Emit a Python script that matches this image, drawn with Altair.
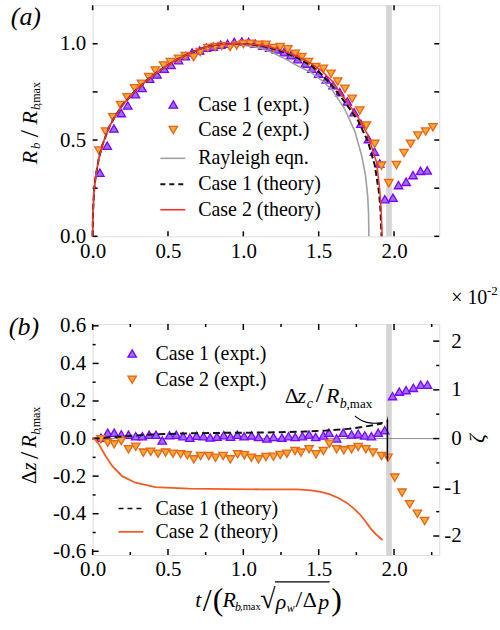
import altair as alt
import pandas as pd

SERIF = "Liberation Serif, Times New Roman, Times, DejaVu Serif, serif"
W, H = 348, 232
TOP = (92, 3)      # plot-area origin of panel (a)
BOT = (92, 323)    # plot-area origin of panel (b)
PAGE = (500, 630)

PURPLE_FILL, PURPLE_EDGE = "#9670f2", "#7f00ff"
ORANGE_FILL, ORANGE_EDGE = "#f7a934", "#e5661c"

# ---------------- panel (a): bubble radius ----------------
ray_t = [0, 0.002, 0.01, 0.02, 0.04, 0.063, 0.108, 0.152, 0.196, 0.284, 0.372, 0.46, 0.548, 0.636,
         0.747, 0.857, 0.92, 1.0, 1.1, 1.2, 1.28, 1.35, 1.45, 1.52, 1.59, 1.67, 1.74, 1.785, 1.81,
         1.825, 1.831, 1.833]
ray_r = [0, 0.12, 0.24, 0.31, 0.40, 0.47, 0.566, 0.627, 0.68, 0.757, 0.818, 0.87, 0.913, 0.948,
         0.983, 0.998, 1.0, 0.995, 0.98, 0.952, 0.92, 0.89, 0.85, 0.81, 0.76, 0.665, 0.545, 0.42,
         0.32, 0.21, 0.12, 0.0]

th1_t = [0, 0.002, 0.01, 0.02, 0.04, 0.063, 0.108, 0.152, 0.196, 0.284, 0.372, 0.46, 0.548, 0.636,
         0.747, 0.857, 0.95, 1.05, 1.15, 1.25, 1.35, 1.454, 1.52, 1.586, 1.674, 1.762, 1.828, 1.872,
         1.9, 1.91, 1.917]
th1_r = [0, 0.12, 0.24, 0.31, 0.40, 0.47, 0.566, 0.627, 0.68, 0.757, 0.818, 0.87, 0.913, 0.948,
         0.983, 0.998, 1.0, 0.997, 0.985, 0.962, 0.93, 0.885, 0.84, 0.785, 0.697, 0.6, 0.49, 0.37,
         0.23, 0.14, 0.0]

th2_t = [0, 0.002, 0.01, 0.02, 0.04, 0.063, 0.108, 0.152, 0.196, 0.284, 0.372, 0.46, 0.548, 0.636,
         0.747, 0.857, 0.95, 1.05, 1.15, 1.25, 1.35, 1.45, 1.52, 1.59, 1.674, 1.762, 1.828, 1.884,
         1.905, 1.915, 1.921]
th2_r = [0, 0.12, 0.24, 0.31, 0.40, 0.47, 0.566, 0.627, 0.68, 0.757, 0.818, 0.87, 0.913, 0.948,
         0.983, 0.998, 1.0, 0.998, 0.988, 0.967, 0.938, 0.897, 0.86, 0.805, 0.713, 0.618, 0.523,
         0.384, 0.245, 0.13, 0.0]

ex1_t = [0.048, 0.097, 0.141, 0.19, 0.233, 0.284, 0.328, 0.379, 0.427, 0.475, 0.52, 0.57, 0.615,
         0.66, 0.71, 0.755, 0.80, 0.85, 0.895, 0.94, 0.99, 1.035, 1.08, 1.13, 1.175, 1.22, 1.27,
         1.315, 1.36, 1.41, 1.455, 1.50, 1.55, 1.595, 1.64, 1.69, 1.735, 1.78, 1.83, 1.87, 1.905,
         1.939, 1.993, 2.03, 2.08, 2.126, 2.176, 2.22]
ex1_r = [0.33, 0.47, 0.56, 0.64, 0.68, 0.738, 0.77, 0.818, 0.84, 0.87, 0.89, 0.915, 0.935, 0.955,
         0.965, 0.98, 0.985, 0.995, 1.0, 1.01, 1.012, 1.01, 1.0, 0.99, 0.98, 0.97, 0.956, 0.94,
         0.92, 0.897, 0.87, 0.845, 0.815, 0.785, 0.748, 0.70, 0.645, 0.585, 0.505, 0.44, 0.378,
         0.193, 0.2, 0.266, 0.283, 0.318, 0.34, 0.342]

ex2_t = [0.042, 0.086, 0.134, 0.185, 0.229, 0.278, 0.324, 0.372, 0.416, 0.471, 0.516, 0.57, 0.615,
         0.67, 0.714, 0.764, 0.813, 0.857, 0.912, 0.956, 1.0, 1.046, 1.1, 1.15, 1.2, 1.245, 1.295,
         1.344, 1.388, 1.432, 1.48, 1.531, 1.582, 1.626, 1.674, 1.722, 1.773, 1.817, 1.872, 1.917,
         1.965, 2.016, 2.066, 2.11, 2.159, 2.21, 2.258]
ex2_r = [0.445, 0.544, 0.618, 0.682, 0.722, 0.769, 0.792, 0.827, 0.861, 0.887, 0.905, 0.922, 0.936,
         0.93, 0.957, 0.978, 0.983, 0.988, 0.983, 0.991, 0.998, 1.0, 0.995, 0.995, 0.978, 0.983,
         0.971, 0.948, 0.931, 0.905, 0.879, 0.87, 0.844, 0.804, 0.766, 0.714, 0.653, 0.575, 0.48,
         0.367, 0.276, 0.37, 0.432, 0.48, 0.523, 0.544, 0.566]

# ---------------- panel (b): bubble centroid displacement ----------------
dz1_t = [0.055, 0.10, 0.143, 0.19, 0.238, 0.286, 0.33, 0.375, 0.42, 0.462, 0.51, 0.555, 0.60, 0.645,
         0.69, 0.735, 0.78, 0.825, 0.87, 0.915, 0.96, 1.005, 1.055, 1.101, 1.157, 1.2, 1.256, 1.3,
         1.344, 1.392, 1.436, 1.48, 1.531, 1.568, 1.619, 1.663, 1.718, 1.762, 1.806, 1.85, 1.895,
         1.938, 1.99, 2.035, 2.08, 2.128, 2.177, 2.222]
dz1_v = [0.005, 0.031, 0.031, 0.022, 0.02, 0.013, 0.013, 0.02, 0.02, -0.01, 0.018, 0.02, 0.013,
         0.004, 0.015, 0.013, 0.006, 0.01, 0.018, 0.01, 0.02, 0.012, 0.016, 0.008, 0.001, 0.008,
         0.004, 0.013, 0.008, 0.013, 0.022, 0.008, 0.017, 0.031, 0.001, 0.031, 0.022, 0.026, 0.017,
         0.013, 0.031, 0.044, 0.226, 0.25, 0.258, 0.27, 0.287, 0.287]

dz2_t = [0.055, 0.10, 0.143, 0.19, 0.238, 0.286, 0.337, 0.385, 0.434, 0.484, 0.533, 0.584, 0.628,
         0.672, 0.716, 0.771, 0.815, 0.866, 0.914, 0.962, 1.007, 1.053, 1.101, 1.15, 1.2, 1.245,
         1.289, 1.343, 1.383, 1.436, 1.482, 1.531, 1.571, 1.619, 1.667, 1.718, 1.762, 1.813, 1.861,
         1.917, 1.96, 2.005, 2.053, 2.104, 2.155, 2.203]
dz2_v = [-0.004, -0.022, -0.031, -0.013, -0.057, -0.044, -0.075, -0.07, -0.081, -0.075, -0.081,
         -0.084, -0.089, -0.111, -0.093, -0.093, -0.102, -0.093, -0.111, -0.084, -0.089, -0.102,
         -0.111, -0.098, -0.097, -0.088, -0.081, -0.066, -0.075, -0.057, -0.084, -0.066, -0.028,
         -0.057, -0.063, -0.057, -0.045, -0.057, -0.075, -0.093, -0.102, -0.208, -0.288, -0.35,
         -0.4, -0.439]

dzth1_t = [0, 0.1, 0.2, 0.4, 0.6, 0.8, 1.0, 1.2, 1.4, 1.55, 1.7, 1.8, 1.87, 1.92]
dzth1_v = [0, 0.005, 0.012, 0.022, 0.027, 0.03, 0.031, 0.033, 0.037, 0.043, 0.052, 0.063, 0.072, 0.08]

dzth2_t = [0, 0.02, 0.042, 0.086, 0.13, 0.196, 0.284, 0.416, 0.637, 0.9, 1.1, 1.355, 1.45, 1.52,
           1.575, 1.63, 1.685, 1.73, 1.773, 1.81, 1.84, 1.88, 1.917, 1.925]
dzth2_v = [0, -0.008, -0.031, -0.093, -0.146, -0.2, -0.235, -0.258, -0.267, -0.269, -0.27, -0.27,
           -0.276, -0.285, -0.297, -0.316, -0.341, -0.37, -0.403, -0.44, -0.474, -0.51, -0.536,
           -0.54]

# pinch-off window and the jump annotation
band_t = [1.948, 1.985]
jump_t = [1.956]
jump_lo, jump_hi = [-0.105], [0.10]
leader_t = [1.74, 1.785, 1.85, 1.927]
leader_v = [0.12, 0.093, 0.079, 0.084]

# axis ticks
x_major = [0, 0.5, 1.0, 1.5, 2.0]
x_minor = [0.25, 0.75, 1.25, 1.75, 2.25]
ra_ticks = [0, 0.25, 0.5, 0.75, 1.0]
dz_major = [-0.6, -0.4, -0.2, 0, 0.2, 0.4, 0.6]
dz_minor = [-0.5, -0.3, -0.1, 0.1, 0.3, 0.5]
zeta_major = [-2, -1, 0, 1, 2]
zeta_minor = [-1.5, -0.5, 0.5, 1.5]

ONE = pd.DataFrame({"k": [0]})

xscale = alt.Scale(domain=[0, 2.3], nice=False, zero=False)
rscale = alt.Scale(domain=[0, 1.2], nice=False, zero=False)
dzscale = alt.Scale(domain=[-0.62, 0.61], nice=False, zero=False)
zscale = alt.Scale(domain=[-0.62 * 3.856, 0.61 * 3.856], nice=False, zero=False)

LBL = dict(ticks=False, domain=False, grid=False, labelFont=SERIF, labelFontSize=21,
           labelColor="black", title=None, labelFlush=False, labelOverlap=False)
xaxis = alt.Axis(values=x_major, format=".1f", labelPadding=4, **LBL)
raxis = alt.Axis(values=[0, 0.5, 1.0], format=".1f", labelPadding=7, **LBL)
dzaxis = alt.Axis(values=dz_major, labelPadding=7,
                  labelExpr="datum.value < 0 ? '-' + format(-datum.value, '.1f') : format(datum.value, '.1f')",
                  **LBL)
zaxis = alt.Axis(values=zeta_major, orient="right", labelPadding=22, labelAlign="right",
                 labelExpr="datum.value < 0 ? '-' + format(-datum.value, 'd') : format(datum.value, 'd')",
                 **LBL)


def X():
    return alt.X("t:Q", scale=xscale, axis=xaxis)


def YR():
    return alt.Y("r:Q", scale=rscale, axis=raxis)


def YD():
    return alt.Y("dz:Q", scale=dzscale, axis=dzaxis)


def text(origin, s, x, y, size=20, italic=False, angle=0, align="center", baseline="middle"):
    kw = dict(text=s, font=SERIF, fontSize=size, fontStyle="italic" if italic else "normal",
              align=align, baseline=baseline, color="black")
    if angle:
        kw["angle"] = angle
    return alt.Chart(ONE).mark_text(**kw).encode(x=alt.value(x - origin[0]), y=alt.value(y - origin[1]))


def legend_symbol(origin, shape, fill, edge, x, y):
    return alt.Chart(ONE).mark_point(shape=shape, filled=True, fill=fill, stroke=edge, strokeWidth=1.3,
                                     size=72, opacity=1).encode(
        x=alt.value(x - origin[0]), y=alt.value(y - origin[1]))


def legend_line(origin, color, x0, x1, y, width=1.5, dash=None):
    kw = dict(color=color, strokeWidth=width)
    if dash:
        kw["strokeDash"] = dash
    return alt.Chart(ONE).mark_rule(**kw).encode(
        x=alt.value(x0 - origin[0]), x2=alt.value(x1 - origin[0]), y=alt.value(y - origin[1]))


def points(t, v, field, ychan, shape, fill, edge):
    return alt.Chart(pd.DataFrame({"t": t, field: v})).mark_point(
        shape=shape, filled=True, fill=fill, stroke=edge, strokeWidth=1.3, size=72, opacity=1
    ).encode(x=X(), y=ychan())


def curve(t, v, field, ychan, color, width=1.5, dash=None):
    kw = dict(color=color, strokeWidth=width)
    if dash:
        kw["strokeDash"] = dash
    return alt.Chart(pd.DataFrame({"t": t, field: v})).mark_line(**kw).encode(x=X(), y=ychan())


def xticks(values, length):
    d = pd.DataFrame({"t": values})
    bottom = alt.Chart(d).mark_rule(color="black", strokeWidth=1.5).encode(
        x=X(), y=alt.value(H), y2=alt.value(H - length))
    top = alt.Chart(d).mark_rule(color="black", strokeWidth=1.5).encode(
        x=X(), y=alt.value(0), y2=alt.value(length))
    return [bottom, top]


def yticks(values, field, ychan, length, left=True, right=True):
    d = pd.DataFrame({field: values})
    out = []
    if left:
        out.append(alt.Chart(d).mark_rule(color="black", strokeWidth=1.5).encode(
            y=ychan(), x=alt.value(0), x2=alt.value(length)))
    if right:
        out.append(alt.Chart(d).mark_rule(color="black", strokeWidth=1.5).encode(
            y=ychan(), x=alt.value(W), x2=alt.value(W - length)))
    return out


# invisible sheet spanning the whole page, so the page frame is fixed
page = alt.Chart(ONE).mark_rect(opacity=0).encode(
    x=alt.value(-TOP[0]), x2=alt.value(PAGE[0] - TOP[0]),
    y=alt.value(-TOP[1]), y2=alt.value(PAGE[1] - TOP[1]))

# ---------------- build panel (a) ----------------
band_a = alt.Chart(pd.DataFrame({"t": [band_t[0]], "t2": [band_t[1]]})).mark_rect(color="#d4d4d4").encode(
    x=X(), x2="t2:Q", y=alt.value(0), y2=alt.value(H))

layers_a = [page, band_a]
layers_a += xticks(x_major, 5)
layers_a += yticks(ra_ticks, "r", YR, 5)
layers_a += [
    points(ex1_t, ex1_r, "r", YR, "triangle-up", PURPLE_FILL, PURPLE_EDGE),
    points(ex2_t, ex2_r, "r", YR, "triangle-down", ORANGE_FILL, ORANGE_EDGE),
    curve(ray_t, ray_r, "r", YR, "#a0a0a0", 1.6),
    curve(th1_t, th1_r, "r", YR, "#111111", 2, [6, 3]),
    curve(th2_t, th2_r, "r", YR, "#f0332a", 1.5),
    legend_symbol(TOP, "triangle-up", PURPLE_FILL, PURPLE_EDGE, 173, 102.7),
    legend_symbol(TOP, "triangle-down", ORANGE_FILL, ORANGE_EDGE, 173, 128.3),
    legend_line(TOP, "#a0a0a0", 160, 185, 156.7, 1.6),
    legend_line(TOP, "#111111", 160, 185, 182.7, 2, [5, 4]),
    legend_line(TOP, "#f0332a", 160, 185, 208.3, 1.6),
    text(TOP, "Case 1 (expt.)", 198, 102.7, align="left"),
    text(TOP, "Case 2 (expt.)", 198, 128.3, align="left"),
    text(TOP, "Rayleigh eqn.", 198, 156.7, align="left"),
    text(TOP, "Case 1 (theory)", 198, 182.7, align="left"),
    text(TOP, "Case 2 (theory)", 198, 208.3, align="left"),
    text(TOP, "(a)", 25, 15, size=26, italic=True),
    # R_b / R_b,max
    text(TOP, "R", 29, 156, size=22, italic=True, angle=270),
    text(TOP, "b", 35, 144, size=13, italic=True, angle=270),
    text(TOP, "/", 29, 132, size=26, angle=270),
    text(TOP, "R", 29, 116, size=22, italic=True, angle=270),
    text(TOP, "b", 35, 105, size=13, italic=True, angle=270),
    text(TOP, ",max", 35, 92, size=12, angle=270),
]
panel_a = alt.layer(*layers_a).properties(width=W, height=H)

# ---------------- build panel (b) ----------------
band_b = alt.Chart(pd.DataFrame({"t": [band_t[0]], "t2": [band_t[1]]})).mark_rect(color="#d4d4d4").encode(
    x=X(), x2="t2:Q", y=alt.value(0), y2=alt.value(H))
zero_b = alt.Chart(pd.DataFrame({"dz": [0.0]})).mark_rule(color="#8c8c8c", strokeWidth=1).encode(y=YD())

layers_b = [band_b, zero_b]
layers_b += xticks(x_major, 6) + xticks(x_minor, 3)
layers_b += yticks(dz_major, "dz", YD, 6, right=False) + yticks(dz_minor, "dz", YD, 3, right=False)
layers_b += [
    points(dz1_t, dz1_v, "dz", YD, "triangle-up", PURPLE_FILL, PURPLE_EDGE),
    points(dz2_t, dz2_v, "dz", YD, "triangle-down", ORANGE_FILL, ORANGE_EDGE),
    curve(dzth1_t, dzth1_v, "dz", YD, "#111111", 2, [7, 4]),
    curve(dzth2_t, dzth2_v, "dz", YD, "#f05d23", 1.8),
    # jump of the centroid across pinch-off
    alt.Chart(pd.DataFrame({"t": jump_t, "dz": jump_lo, "dz2": jump_hi})).mark_rule(
        color="black", strokeWidth=1.5).encode(x=X(), y=YD(), y2="dz2:Q"),
    alt.Chart(pd.DataFrame({"t": jump_t, "dz": [jump_hi[0]]})).mark_point(
        shape="wedge", filled=True, color="black", size=45, opacity=1).encode(x=X(), y=YD()),
    alt.Chart(pd.DataFrame({"t": jump_t, "dz": [jump_lo[0]]})).mark_point(
        shape="wedge", angle=180, filled=True, color="black", size=45, opacity=1).encode(x=X(), y=YD()),
    alt.Chart(pd.DataFrame({"t": leader_t, "dz": leader_v})).mark_line(
        color="black", strokeWidth=1.2, interpolate="basis").encode(x=X(), y=YD()),
    # legend
    legend_symbol(BOT, "triangle-up", PURPLE_FILL, PURPLE_EDGE, 131.7, 352.7),
    legend_symbol(BOT, "triangle-down", ORANGE_FILL, ORANGE_EDGE, 131.7, 379),
    legend_line(BOT, "#111111", 118, 143, 508.3, 1.6, [5, 4]),
    legend_line(BOT, "#f05d23", 118, 143, 531.7, 1.8),
    text(BOT, "Case 1 (expt.)", 155, 352.7, align="left"),
    text(BOT, "Case 2 (expt.)", 155, 379, align="left"),
    text(BOT, "Case 1 (theory)", 155, 508.3, align="left"),
    text(BOT, "Case 2 (theory)", 155, 531.7, align="left"),
    text(BOT, "(b)", 23, 326, size=26, italic=True),
    # Δz_c / R_b,max annotation
    text(BOT, "Δ", 292, 395, size=22),
    text(BOT, "z", 302, 395, size=22, italic=True),
    text(BOT, "c", 310, 403, size=14, italic=True),
    text(BOT, "/", 320, 393, size=28),
    text(BOT, "R", 333, 395, size=22, italic=True),
    text(BOT, "b", 340, 403, size=14, italic=True, align="left"),
    text(BOT, ",max", 347, 403, size=13, align="left"),
    # Δz / R_b,max
    text(BOT, "Δ", 29, 477, size=21, angle=270),
    text(BOT, "z", 29, 466, size=21, italic=True, angle=270),
    text(BOT, "/", 29, 455, size=26, angle=270),
    text(BOT, "R", 29, 441, size=21, italic=True, angle=270),
    text(BOT, "b", 35, 431, size=13, italic=True, angle=270),
    text(BOT, ",max", 35, 418, size=12, angle=270),
    # t / (R_b,max sqrt(rho_w / Δp))
    text(BOT, "t", 198, 600, size=22, italic=True),
    text(BOT, "/", 207, 601, size=32),
    text(BOT, "(", 218, 600, size=32),
    text(BOT, "R", 229, 600, size=22, italic=True),
    text(BOT, "b", 235, 607, size=12, italic=True, align="left"),
    text(BOT, ",max", 240, 607, size=10.5, align="left"),
    text(BOT, "√", 268, 600, size=28),
    legend_line(BOT, "black", 275, 330, 582, 1.2),
    text(BOT, "ρ", 281, 602, size=22, italic=True),
    text(BOT, "w", 287, 608, size=12, italic=True, align="left"),
    text(BOT, "/", 299, 600, size=24),
    text(BOT, "Δ", 310, 600, size=22),
    text(BOT, "p", 324, 602, size=22, italic=True),
    text(BOT, ")", 337, 600, size=32),
    # right axis title and multiplier
    text(BOT, "ζ", 478, 438, size=22, italic=True, angle=270),
    text(BOT, "× 10", 452, 297, size=20, align="left"),
    text(BOT, "-2", 488, 290, size=13, align="left"),
]
dz_group = alt.layer(*layers_b)


def ZY():
    return alt.Y("zeta:Q", scale=zscale, axis=zaxis)


zeta_group = alt.layer(
    alt.Chart(pd.DataFrame({"zeta": zeta_major})).mark_rule(color="black", strokeWidth=1.5).encode(
        y=ZY(), x=alt.value(W), x2=alt.value(W - 6)),
    alt.Chart(pd.DataFrame({"zeta": zeta_minor})).mark_rule(color="black", strokeWidth=1.5).encode(
        y=ZY(), x=alt.value(W), x2=alt.value(W - 3)),
)
panel_b = alt.layer(dz_group, zeta_group).resolve_scale(y="independent").properties(width=W, height=H)

chart = alt.vconcat(panel_a, panel_b, spacing=88, bounds="flush").properties(
    autosize=alt.AutoSizeParams(type="pad"),
    padding=0,
).configure_view(stroke="black", strokeWidth=2).configure(background="white")

chart.save("out.html", embed_options={"renderer": "svg", "actions": False})
